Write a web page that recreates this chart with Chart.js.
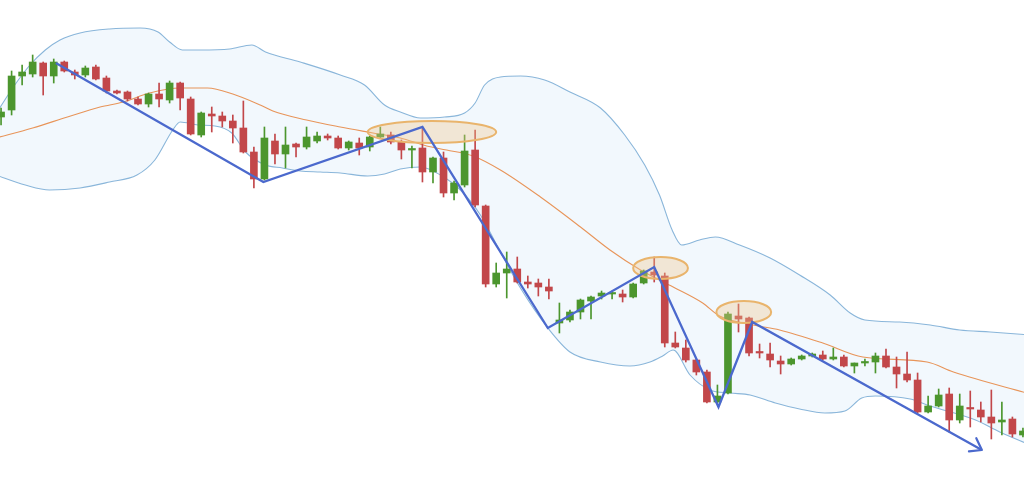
<!DOCTYPE html>
<html>
<head>
<meta charset="utf-8">
<style>
  html, body { margin:0; padding:0; background:#fff; }
  canvas { display:block; }
</style>
<script src="https://cdn.jsdelivr.net/npm/chart.js@4.4.0/dist/chart.umd.min.js"></script>
</head>
<body>
<canvas id="chart" width="1024" height="493"></canvas>
<script>
// ---------------------------
// DATA (price units, one candle per bar index)
// ---------------------------
const open  = [383,390,424,426,437,424,438,428,425,433, 422,409,408,401,396,406,400,417,401,365,
               386,384,379,372,348,321,359,346,356,353, 359,364,362,352,357,353,363,365,358,350,
               352,328,342,307,315,350,294,216,227,231, 218,217,213,177,180,188,199,204,206,206,
               203,217,228,224,157,152,140,128,98,107, 184,182,148,146,139,136,141,144,145,141,
               143,134,137,138,144,133,126,120,88,94, 106,80,92,90,83,78,81,65];
const close = [388,424,428,438,424,438,429,425,432,421, 409,407,401,396,406,401,417,402,366,387,
               384,379,372,348,321,362,346,355,353,363, 364,362,352,358,352,363,366,358,350,351,
               328,342,307,317,349,295,216,227,231,218, 216,213,209,180,188,200,203,207,207,203,
               216,229,225,157,153,140,128,98,104,186, 181,147,147,140,136,141,144,146,141,143,
               134,137,138,144,133,126,120,88,94,105, 80,94,91,83,77,80,66,69];
const high  = [392,429,435,445,438,441,439,430,434,435, 424,410,409,403,407,417,419,418,403,388,
               393,388,385,399,353,373,366,373,357,373, 368,366,364,359,362,364,373,368,360,354,
               372,343,348,319,365,370,295,237,248,243, 224,221,221,197,190,201,204,209,209,210,
               217,230,243,227,168,160,141,130,115,188, 196,183,156,157,144,142,145,147,149,152,
               145,137,141,147,151,143,148,127,104,111, 112,106,109,98,110,98,83,72];
const low   = [375,385,415,423,405,417,428,421,423,420, 407,406,399,395,393,393,397,390,365,363,
               368,373,357,347,312,320,336,332,343,351, 357,360,351,350,345,349,362,356,341,332,
               318,317,303,300,313,293,213,213,202,217, 212,204,201,167,178,181,181,201,201,198,
               202,216,218,153,152,138,125,97,97,106, 168,144,142,133,126,135,140,143,140,140,
               133,127,134,127,132,112,118,87,87,93, 68,77,73,78,61,65,63,63];

// Bollinger bands (bar index, price)
const upperX = [-0.5,1.3,2.75,4.2,5.6,7.5,10.3,13.2,14.9,16,17.2,18.9,21.7,23.8,25.1,28.4,32.2,34.5,36.4,37.9,
                39.8,42.1,44,45,45.9,47.4,49.3,51.6,54,56.9,59.2,61.1,62.5,63.7,64.6,66.3,67.8,70.1,73,75.8,
                78.7,80.6,82,85.3,88.2,91,93.9,97.7];
const upperY = [386,415,435,450,460,467,471,472,468,458,450,450,451,455,448,438,425,415,395,388,
                382,383,387,397,415,423,424,420,408,392,365,335,305,270,255,260,263,255,242,225,
                205,187,180,178,175,170,168,165];
const lowerX = [-0.5,2.3,4.6,7.5,10.3,12.9,14.6,16.3,17,18.7,20.3,21.9,23.2,25.1,26.7,28.4,30.3,32.2,34.8,36.4,
                37.9,39.8,41.7,43.6,45.5,47.4,49.3,51.9,54,56.9,59.7,61.6,62.8,63.8,65.4,67.3,69.2,71.1,73.5,75.8,
                78.2,80.1,81.7,83,86.3,88.2,92.5,94.8,97.7];
const lowerY = [325,315,310,312,318,325,340,370,378,375,374,367,348,335,332,329,328,327,324,326,
                331,333,325,310,285,248,212,172,148,138,134,138,144,150,125,110,107,105,97,91,
                87,89,102,104,101,94,80,68,55];
const middleX = [-0.5,3,6.3,9.4,11.6,14.1,17,19.6,22,24.6,25.8,29,32.2,35.3,37.9,40.4,42.3,44.8,47.4,51.2,
                 55,57.8,60.7,63.8,66.6,68.2,71.4,73.9,78,81.8,87.9,90.4,97.7];
const middleY = [362,372,383,393,398,407,412,412,406,395,389,380,373,367,362,354,350,344,330,303,
                 273,250,230,213,197,184,175,170,157,143,138,128,106];

// swing line (bar index, price)
const zigX = [5.2,24.9,40.0,51.9,62.0,68.1,71.3,93.1];
const zigY = [437,318,373,172,233,93,178,50];

// highlighted zones (centre index, centre price, half width in bars, half height in price)
const zoneX  = [40.9,62.6,70.5];
const zoneY  = [368,232,188];
const zoneRx = [6.1,2.6,2.6];
const zoneRy = [11,11,11];

// ---------------------------
// STYLE
// ---------------------------
const UP = "#4c962e", DOWN = "#c2474a";
const BAND = "#8ab6da", MID = "#e8955a", ZIG = "#4b69cd";

const idx = open.map((_, i) => i);
const colors = idx.map(i => close[i] >= open[i] ? UP : DOWN);
const pts = (xs, ys) => xs.map((x, i) => ({x, y: ys[i]}));

const overlay = {
  id: "overlay",
  // zones go over the candles but under the swing line
  afterDatasetDraw(chart, args){
    if(args.index !== 4) return;
    const {ctx, scales:{x, y}} = chart;
    ctx.save();
    zoneX.forEach((cx, i) => {
      const px = x.getPixelForValue(cx), py = y.getPixelForValue(zoneY[i]);
      const rx = x.getPixelForValue(cx + zoneRx[i]) - px;
      const ry = py - y.getPixelForValue(zoneY[i] + zoneRy[i]);
      ctx.beginPath();
      ctx.ellipse(px, py, rx, ry, 0, 0, Math.PI*2);
      ctx.fillStyle = "rgba(238,196,140,0.36)";
      ctx.fill();
      ctx.strokeStyle = "#e9b46c"; ctx.lineWidth = 2;
      ctx.stroke();
    });
    ctx.restore();
  },
  afterDatasetsDraw(chart){
    const {ctx, scales:{x, y}} = chart;
    ctx.save();
    // arrow head on the last swing
    const n = zigX.length;
    const x1 = x.getPixelForValue(zigX[n-2]), y1 = y.getPixelForValue(zigY[n-2]);
    const x2 = x.getPixelForValue(zigX[n-1]), y2 = y.getPixelForValue(zigY[n-1]);
    const a = Math.atan2(y2 - y1, x2 - x1), L = 13, s = 0.62;
    ctx.strokeStyle = ZIG; ctx.lineWidth = 2.2; ctx.lineCap = "round"; ctx.lineJoin = "round";
    ctx.beginPath();
    ctx.moveTo(x2 - L*Math.cos(a - s), y2 - L*Math.sin(a - s));
    ctx.lineTo(x2, y2);
    ctx.lineTo(x2 - L*Math.cos(a + s), y2 - L*Math.sin(a + s));
    ctx.stroke();
    ctx.restore();
  }
};

new Chart(document.getElementById("chart"), {
  type: "bar",
  data: {
    datasets: [
      { type:"line", data: pts(upperX, upperY), borderColor: BAND, borderWidth: 1.1,
        pointRadius: 0, tension: 0.4, cubicInterpolationMode: "monotone",
        fill: "+1", backgroundColor: "rgba(214,233,248,0.32)", order: 5 },
      { type:"line", data: pts(lowerX, lowerY), borderColor: BAND, borderWidth: 1.1,
        pointRadius: 0, tension: 0.4, cubicInterpolationMode: "monotone", fill: false, order: 4 },
      { type:"line", data: pts(middleX, middleY), borderColor: MID, borderWidth: 1.1,
        pointRadius: 0, tension: 0.4, cubicInterpolationMode: "monotone", fill: false, order: 3 },
      { data: idx.map(i => ({x: i, y: [low[i], high[i]]})), backgroundColor: colors,
        barThickness: 1, grouped: false, order: 2 },
      { data: idx.map(i => ({x: i, y: [open[i], close[i]]})), backgroundColor: colors,
        barThickness: 7, grouped: false, minBarLength: 1.5, order: 1 },
      { type:"line", data: pts(zigX, zigY), borderColor: ZIG, borderWidth: 2.3,
        pointRadius: 0, tension: 0, fill: false, order: 0 }
    ]
  },
  options: {
    responsive: false,
    animation: false,
    events: [],
    layout: { padding: 0 },
    plugins: { legend: { display: false }, tooltip: { enabled: false } },
    scales: {
      x: { type: "linear", min: -0.1, max: 97.1, offset: false, display: false },
      y: { min: 7, max: 500, display: false }
    }
  },
  plugins: [overlay]
});
</script>
</body>
</html>
